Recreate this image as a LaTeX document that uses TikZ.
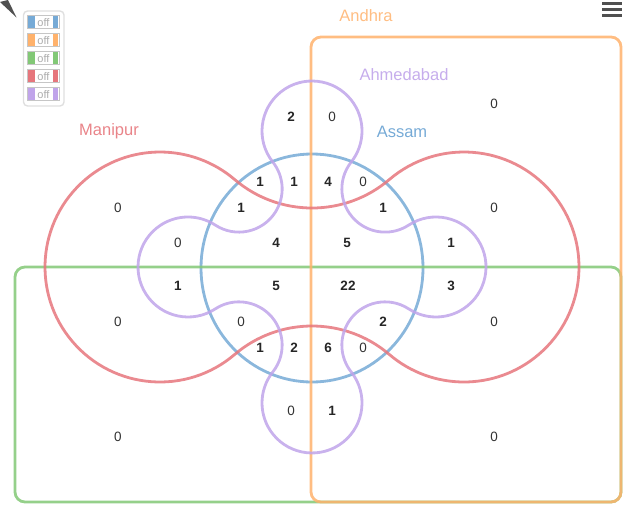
\documentclass[tikz,border=0pt]{standalone}
\usepackage{fontspec}
\setmainfont{Liberation Sans}
\definecolor{cAssam}{RGB}{118,170,214}
\definecolor{cAndhra}{RGB}{255,178,108}
\definecolor{cGreen}{RGB}{130,200,118}
\definecolor{cManipur}{RGB}{230,118,124}
\definecolor{cAhmed}{RGB}{192,164,234}
\definecolor{cIcon}{RGB}{80,80,80}
\begin{document}
\begin{tikzpicture}[x=1pt,y=-1pt,
  setline/.style={line width=2.8pt, opacity=0.85},
  cnt/.style={font=\bfseries\fontsize{13.5}{15}\selectfont, text=black!85, inner sep=0pt},
  zero/.style={font=\fontsize{13.5}{15}\selectfont, text=black!80, inner sep=0pt},
  setname/.style={font=\fontsize{16.5}{19}\selectfont, inner sep=0pt},
  btn/.style={draw=gray!45, line width=0.8pt, fill=white, minimum width=32pt, minimum height=13pt, inner sep=0pt},
  btntext/.style={font=\fontsize{11}{12}\selectfont, text=gray!65, inner sep=0pt}]
\useasboundingbox (0,0) rectangle (636,511);

% set outlines
\draw[setline, cAssam] (312,268) ellipse [x radius=111, y radius=114];
\draw[setline, cGreen, rounded corners=10pt] (15,267) rectangle (621,502);
\draw[setline, cAndhra, rounded corners=10pt] (311,37) rectangle (621,502);
\draw[setline, cManipur] (234.61,354.51)
  arc[start angle=49.55, end angle=310.45, radius=115]
  arc[start angle=130.45, end angle=49.55, radius=119.29]
  arc[start angle=-130.45, end angle=130.45, radius=115]
  arc[start angle=-49.55, end angle=-130.45, radius=119.29] -- cycle;
\draw[setline, cAhmed] (272.81,162.05)
  arc[start angle=141.62, end angle=398.38, radius=50]
  arc[start angle=218.38, end angle=56.90, radius=43.23]
  arc[start angle=-123.10, end angle=123.10, radius=50]
  arc[start angle=-56.90, end angle=-218.38, radius=43.23]
  arc[start angle=-38.38, end angle=218.38, radius=50]
  arc[start angle=38.38, end angle=-123.10, radius=43.23]
  arc[start angle=56.90, end angle=303.10, radius=50]
  arc[start angle=123.10, end angle=-38.38, radius=43.23] -- cycle;

% set names
\node[setname, text=cAndhra!85] (lAndhra) at (366,16) {Andhra};
\node[setname, text=cAhmed!90] (lAhmed) at (404,75) {Ahmedabad};
\node[setname, text=cAssam] (lAssam) at (402,132) {Assam};
\node[setname, text=cManipur!90] (lManipur) at (109,131) {Manipur};

% region counts
\node[cnt]  (a1) at (291,117) {2};
\node[zero] (a2) at (332,117) {0};
\node[zero] (a3) at (494,104) {0};
\node[cnt]  (b1) at (260,182) {1};
\node[cnt]  (b2) at (294,182) {1};
\node[cnt]  (b3) at (328,182) {4};
\node[zero] (b4) at (363,182) {0};
\node[zero] (c1) at (118,208) {0};
\node[cnt]  (c2) at (241,208) {1};
\node[cnt]  (c3) at (383,208) {1};
\node[zero] (c4) at (494,208) {0};
\node[zero] (d1) at (178,243) {0};
\node[cnt]  (d2) at (276,243) {4};
\node[cnt]  (d3) at (347,243) {5};
\node[cnt]  (d4) at (451,243) {1};
\node[cnt]  (e1) at (178,286) {1};
\node[cnt]  (e2) at (276,286) {5};
\node[cnt]  (e3) at (348,286) {22};
\node[cnt]  (e4) at (451,286) {3};
\node[zero] (f1) at (118,322) {0};
\node[zero] (f2) at (241,322) {0};
\node[cnt]  (f3) at (383,322) {2};
\node[zero] (f4) at (494,322) {0};
\node[cnt]  (g1) at (260,348) {1};
\node[cnt]  (g2) at (294,348) {2};
\node[cnt]  (g3) at (328,348) {6};
\node[zero] (g4) at (363,348) {0};
\node[zero] (h1) at (291,411) {0};
\node[cnt]  (h2) at (332,411) {1};
\node[zero] (i1) at (118,437) {0};
\node[zero] (i2) at (494,437) {0};

% legend with toggle buttons
\draw[gray!25, line width=1.4pt, rounded corners=4pt] (23.5,11) rectangle (64,106);
\foreach \c/\yy/\nm in {cAssam/22/t1, cAndhra/40/t2, cGreen/58/t3, cManipur/76/t4, cAhmed/94/t5}{
  \node[btn] (\nm) at (43,\yy) {};
  \fill[\c] (27.8,\yy-5.8) rectangle (34.5,\yy+5.8);
  \fill[\c] (53,\yy-5.8) rectangle (58.2,\yy+5.8);
  \node[btntext] at (43.5,\yy+0.5) {off};
}

% corner pointer and menu icon
\fill[cIcon] (0,2) -- (8,0) -- (16.5,17.5) -- cycle;
\foreach \yy in {3.5,9.5,15.5}
  \fill[cIcon] (602,\yy-1.3) rectangle (622,\yy+1.3);
\end{tikzpicture}
\end{document}
